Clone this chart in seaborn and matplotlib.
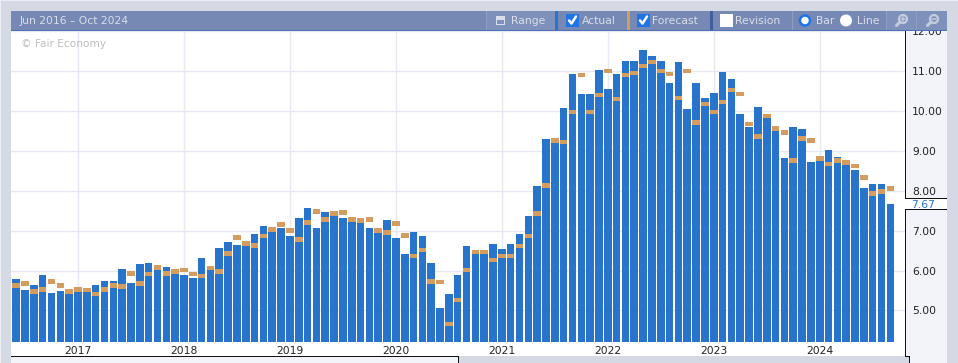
import matplotlib
matplotlib.use("Agg")
import matplotlib.pyplot as plt
from matplotlib.patches import Circle, Rectangle
import pandas as pd
import seaborn as sns

actual = [
    5.78, 5.51, 5.63, 5.88, 5.43, 5.48, 5.43, 5.48, 5.46, 5.63,
    5.73, 5.73, 6.03, 5.68, 6.16, 6.18, 6.03, 6.08, 5.93, 5.88,
    5.81, 6.31, 6.01, 6.56, 6.71, 6.63, 6.63, 6.93, 7.13, 6.98,
    7.08, 6.88, 7.33, 7.58, 7.08, 7.48, 7.38, 7.31, 7.23, 7.21,
    7.06, 6.96, 7.26, 6.81, 6.41, 6.96, 6.88, 6.18, 5.06, 5.41,
    5.88, 6.61, 6.41, 6.41, 6.66, 6.53, 6.66, 6.91, 7.36, 8.13,
    9.31, 9.21, 10.08, 10.93, 10.43, 10.43, 11.03, 10.56, 10.93, 11.26,
    11.26, 11.53, 11.38, 11.26, 10.71, 11.23, 10.06, 10.71, 10.33, 10.46,
    10.99, 10.81, 9.93, 9.61, 10.11, 9.83, 9.51, 8.83, 9.61, 9.56,
    8.73, 8.76, 9.03, 8.86, 8.66, 8.51, 8.08, 8.16, 8.18, 7.67,
]
forecast = [
    5.63, 5.68, 5.48, 5.53, 5.73, 5.63, 5.48, 5.53, 5.51, 5.41,
    5.53, 5.63, 5.60, 5.93, 5.68, 5.91, 6.08, 5.93, 5.98, 6.01,
    5.91, 5.86, 6.06, 5.98, 6.43, 6.83, 6.68, 6.63, 6.86, 7.03,
    7.16, 7.01, 6.78, 7.21, 7.48, 7.28, 7.43, 7.46, 7.28, 7.26,
    7.28, 7.01, 6.96, 7.18, 6.88, 6.36, 6.51, 5.73, 5.71, 4.66,
    5.26, 6.01, 6.46, 6.46, 6.26, 6.36, 6.36, 6.61, 6.86, 7.43,
    8.13, 9.26, 9.23, 9.98, 10.91, 9.98, 10.41, 11.01, 10.31, 10.91,
    10.96, 11.13, 11.23, 11.01, 10.93, 10.33, 11.01, 9.71, 10.18, 9.98,
    10.23, 10.53, 10.43, 9.68, 9.36, 9.88, 9.56, 9.46, 8.76, 9.31,
    9.26, 8.81, 8.68, 8.76, 8.71, 8.63, 8.33, 7.93, 7.98, 8.06,
]
y_ticks = [5, 6, 7, 8, 9, 10, 11, 12]
date_range_label = "Jun 2016 – Oct 2024"
watermark = "© Fair Economy"
latest_label = "7.67"

BG = "#d5d9e3"
PANEL = "#f3f4fa"
HEADER = "#7589b4"
HEADER_LIGHT = "#7e91ba"
HEADER_TXT = "#d9deea"
SEP = "#8d9dc2"
GRID = "#e7e8f2"
BLUE = "#2874cd"
ORANGE = "#d49c5e"
NAVY = "#3f5f9c"
W, H = 958, 363

df = pd.DataFrame({
    "month": pd.period_range("2016-06", periods=len(actual), freq="M"),
    "actual": actual,
    "forecast": forecast,
})
df["pos"] = range(len(df))
january = df[df["month"].dt.month == 1]

sns.set_style("white")
plt.rcParams["font.family"] = ["DejaVu Sans"]
fig = plt.figure(figsize=(W / 100, H / 100), dpi=100, facecolor=BG)


def pixel_axes(zorder):
    a = fig.add_axes([0, 0, 1, 1], zorder=zorder)
    a.set_xlim(0, W)
    a.set_ylim(H, 0)
    a.axis("off")
    a.patch.set_alpha(0)
    return a


def box(a, x0, y0, x1, y1, color, **kw):
    a.add_patch(Rectangle((x0, y0), x1 - x0, y1 - y0, fc=color, ec="none", lw=0, **kw))


def checkbox(a, x, on):
    if on:
        box(a, x, 14, x + 13, 27, "#1f74e8")
        a.plot([x + 3, x + 5.5, x + 10], [20.5, 23.5, 16.5], color="white", lw=1.8)
    else:
        box(a, x, 14, x + 13, 27, "white")


def magnifier(a, x, y, color, plus):
    a.add_patch(Circle((x + 1.5, y - 1), 4, fc="none", ec=color, lw=1.6))
    a.plot([x - 1.5, x - 5], [y + 2, y + 5.5], color=color, lw=2.2)
    a.plot([x - 0.5, x + 3.5], [y - 1, y - 1], color=color, lw=1.1)
    if plus:
        a.plot([x + 1.5, x + 1.5], [y - 3, y + 1], color=color, lw=1.1)


# page background and side panels, under the plot
back = pixel_axes(0)
box(back, 0, 0, W, 1, "#eceef3")
box(back, 0, 0, 1, H, "#eceef3")
box(back, 11, 31, 905, 356, "white")
box(back, 11, 356, 459, H, PANEL)
box(back, 905, 31, 947, 356, PANEL)
box(back, 909, 356, 947, H, PANEL)

# plot area, pixel box 11..905 x 31.3..342
ax = fig.add_axes([11 / W, 1 - 342 / H, 894 / W, (342 - 31.3) / H], zorder=1)
ax.patch.set_alpha(0)
sns.barplot(data=df, x="pos", y="actual", native_scale=True, color=BLUE,
            saturation=1, width=0.86, linewidth=0, ax=ax, zorder=2)
ax.bar(df["pos"], 0.11, bottom=df["forecast"] - 0.055, width=0.86, color=ORANGE,
       linewidth=0, zorder=3)

ax.set_xlim(-0.59, 100.66)
ax.set_ylim(4.21, 12)
ax.set_xticks(january["pos"], january["month"].dt.year)
ax.set_yticks(y_ticks, [f"{v:.2f}" for v in y_ticks])
ax.yaxis.tick_right()
ax.tick_params(axis="both", length=0, labelsize=7.75, labelcolor="#222222")
ax.tick_params(axis="x", pad=3)
ax.tick_params(axis="y", pad=5)
ax.grid(True, color=GRID, lw=1)
ax.set_axisbelow(True)
ax.set_xlabel("")
ax.set_ylabel("")
sns.despine(ax=ax, left=True, bottom=True, right=True, top=True)
ax.text(0.0112, 0.959, watermark, transform=ax.transAxes, fontsize=7.6,
        color="#bdbdbd", va="center")

# header strip and lines, over the plot
top = pixel_axes(2)
box(top, 11, 11, 947, 30, HEADER)
box(top, 11, 30, 947, 31, "#4d71b8")
top.text(20, 21, date_range_label, fontsize=7.75, color=HEADER_TXT, va="center")

box(top, 487, 11, 555, 30, HEADER_LIGHT)
box(top, 887, 11, 947, 30, HEADER_LIGHT)
for sx in [486, 792, 886, 916]:
    box(top, sx, 11, sx + 1, 30, SEP)
box(top, 555, 11, 558, 30, BLUE)
box(top, 627, 11, 630, 30, ORANGE)
box(top, 710, 11, 713, 30, NAVY)

# range icon
box(top, 496, 16, 505, 25, HEADER_TXT)
box(top, 497, 20, 504, 24, HEADER_LIGHT)
top.text(511, 21, "Range", fontsize=7.75, color=HEADER_TXT, va="center")
checkbox(top, 566, True)
top.text(582, 21, "Actual", fontsize=7.75, color=HEADER_TXT, va="center")
checkbox(top, 637, True)
top.text(652, 21, "Forecast", fontsize=7.75, color=HEADER_TXT, va="center")
checkbox(top, 720, False)
top.text(735, 21, "Revision", fontsize=7.75, color=HEADER_TXT, va="center")
top.add_patch(Circle((805, 20.5), 5, fc="white", ec="#1f74e8", lw=1.8))
top.text(816, 21, "Bar", fontsize=7.75, color=HEADER_TXT, va="center")
top.add_patch(Circle((846, 20.5), 6, fc="white", ec="none"))
top.text(857, 21, "Line", fontsize=7.75, color=HEADER_TXT, va="center")
magnifier(top, 901.5, 20, "#c3cbde", True)
magnifier(top, 932.5, 20, "#c3cbde", False)

# axis frame and latest value tag
frame = "#111111"
box(top, 905, 31, 906, 356, frame)
box(top, 11, 356, 459, 357, frame)
box(top, 458, 356, 459, H, frame)
box(top, 905, 356, 910, 357, frame)
box(top, 909, 356, 910, H, frame)
box(top, 905, 198, 947, 209, "white")
box(top, 905, 198, 947, 199, frame)
box(top, 905, 209, 947, 210, frame)
top.text(911, 204.5, latest_label, fontsize=7.75, color="#2874cd", va="center")

fig.savefig("out.png", dpi=100, facecolor=BG)
